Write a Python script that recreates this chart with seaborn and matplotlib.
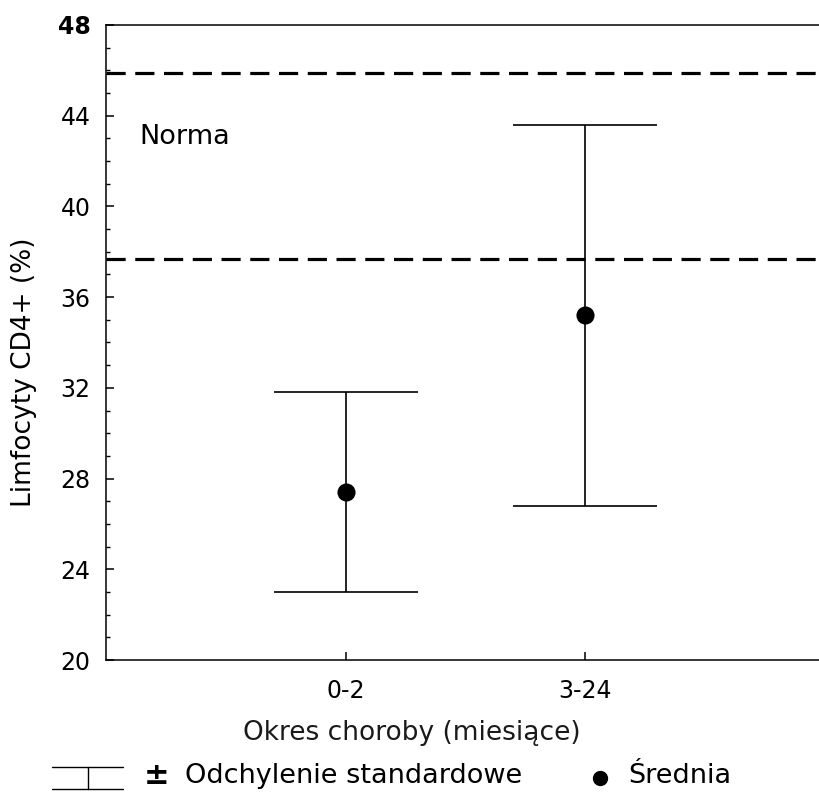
import matplotlib
matplotlib.use("Agg")
import matplotlib.pyplot as plt
from matplotlib.lines import Line2D
import seaborn as sns
import pandas as pd
import numpy as np

# ---- data ----
categories = ["0-2", "3-24"]
means = [27.4, 35.2]
sd = [4.4, 8.4]
norm_low = 37.7
norm_high = 45.9
y_ticks = [20, 24, 28, 32, 36, 40, 44, 48]

sns.set_theme(style="white")
plt.rcParams['font.family'] = ['DejaVu Sans']
plt.rcParams['text.color'] = 'black'
plt.rcParams['xtick.color'] = 'black'
plt.rcParams['ytick.color'] = 'black'

df = pd.DataFrame({"okres": categories, "srednia": means, "sd": sd})

fig = plt.figure(figsize=(8.19, 7.94), dpi=100)
ax = fig.add_axes([106/819, 134/794, 719/819, 635/794])

# error bars (± SD)
ax.errorbar(df["okres"], df["srednia"], yerr=df["sd"], fmt="none",
            ecolor="black", elinewidth=1.2, capsize=51.5, capthick=1.2)
# means
sns.scatterplot(data=df, x="okres", y="srednia", ax=ax, color="black",
                s=170, edgecolor="black", linewidth=0, zorder=5)

# norm lines
for v in (norm_low, norm_high):
    ax.axhline(v, color="black", lw=2.3, dashes=(6, 3))
ax.text(-0.862, 43.05, "Norma", fontsize=19.5, va="center", ha="left")

ax.set_xlim(-1, 2)
ax.set_ylim(20, 48)
ax.set_yticks(y_ticks)
ax.set_yticks(np.arange(20, 49, 1), minor=True)
ax.set_ylabel("")
ax.set_xlabel("")
ax.tick_params(axis="both", which="major", direction="in", length=6,
               width=1.1, color="black", labelsize=17, left=True, bottom=True)
ax.tick_params(axis="y", which="minor", direction="in", length=3, width=1,
               color="black", left=True)
ax.tick_params(axis="y", pad=11)
ax.tick_params(axis="x", pad=14)
for lab in ax.get_yticklabels():
    if lab.get_text() == "48":
        lab.set_fontweight("bold")
for s in ax.spines.values():
    s.set_color("black")
    s.set_linewidth(1.1)
ax.spines["right"].set_visible(False)

fig.text(24/819, 1 - 372/794, "Limfocyty CD4+ (%)", rotation=90,
         fontsize=19, ha="center", va="center")
fig.text(412/819, 1 - 733/794, "Okres choroby (miesiące)", fontsize=19,
         ha="center", va="center", color="#1a1a1a")

# legend
y1, y2 = 1 - 767/794, 1 - 789/794
fig.add_artist(Line2D([52/819, 123/819], [y1, y1], color="black", lw=1))
fig.add_artist(Line2D([52/819, 123/819], [y2, y2], color="black", lw=1))
fig.add_artist(Line2D([88/819, 88/819], [y1, y2], color="black", lw=1))
fig.text(157/819, 1 - 775/794, "±", fontsize=22, fontweight="bold",
         ha="center", va="center")
fig.text(185/819, 1 - 776/794, "Odchylenie standardowe", fontsize=19.5,
         ha="left", va="center")
fig.add_artist(Line2D([600/819], [1 - 778/794], marker="o", color="black",
                      markersize=10, lw=0))
fig.text(628/819, 1 - 776/794, "Średnia", fontsize=19.5, ha="left", va="center")

fig.savefig("out.png", dpi=100)
